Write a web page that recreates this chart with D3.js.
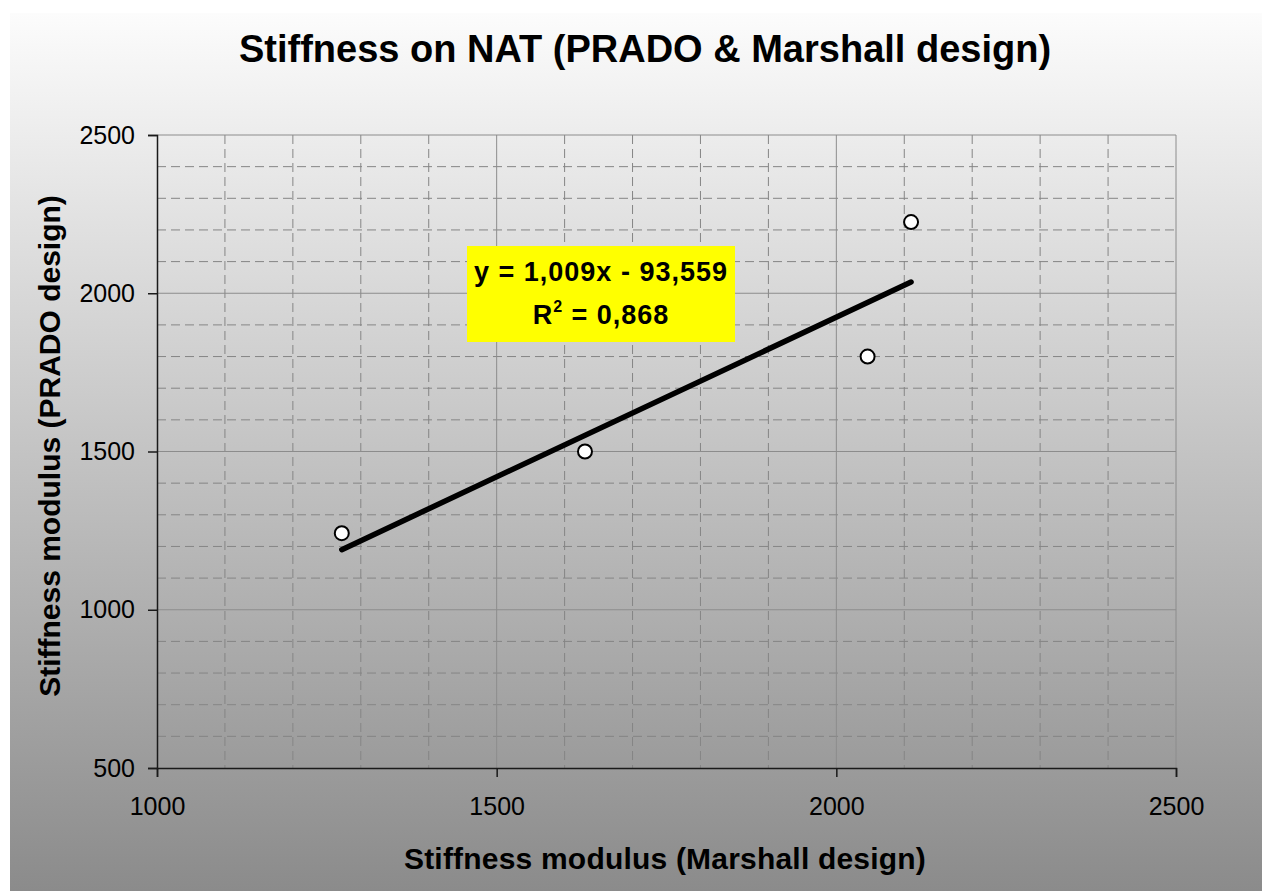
<!DOCTYPE html>
<html><head><meta charset="utf-8">
<script src="https://cdn.jsdelivr.net/npm/d3@7"></script>
<style>body{margin:0;background:#fff}svg{display:block}</style>
</head><body>
<svg id="c" width="1263" height="891"></svg>
<script>
const marshall = [1272, 1630, 2046, 2110];
const prado = [1242, 1500, 1800, 2225];
const trendSlope = 1.009;
const trendIntercept = -93.559;
const trendLabel1 = "y = 1,009x - 93,559";
const xTicks = [1000, 1500, 2000, 2500];
const yTicks = [500, 1000, 1500, 2000, 2500];
const title = "Stiffness on NAT (PRADO & Marshall design)";
const xTitle = "Stiffness modulus (Marshall design)";
const yTitle = "Stiffness modulus (PRADO design)";

const svg = d3.select("#c");
const defs = svg.append("defs");
const g = defs.append("linearGradient").attr("id","bg").attr("x1",0).attr("y1",0).attr("x2",0).attr("y2",1);
g.append("stop").attr("offset","0%").attr("stop-color","#fcfcfc");
g.append("stop").attr("offset","100%").attr("stop-color","#8b8b8b");
svg.append("rect").attr("x",10).attr("y",13).attr("width",1252).attr("height",878).attr("fill","url(#bg)");

const x = d3.scaleLinear().domain([1000,2500]).range([157,1176]);
const y = d3.scaleLinear().domain([500,2500]).range([768,135]);
const font = "'Liberation Sans', Arial, sans-serif";

// minor dashed grid
const minorX = d3.range(1000, 2501, 100).filter(v => v % 500 !== 0);
const minorY = d3.range(500, 2501, 100).filter(v => v % 500 !== 0);
svg.append("g").selectAll("line").data(minorX).join("line")
  .attr("x1", d=>x(d)).attr("x2", d=>x(d)).attr("y1", y(2500)).attr("y2", y(500))
  .attr("stroke","#858585").attr("stroke-width",1).attr("stroke-dasharray","9,5");
svg.append("g").selectAll("line").data(minorY).join("line")
  .attr("y1", d=>y(d)).attr("y2", d=>y(d)).attr("x1", x(1000)).attr("x2", x(2500))
  .attr("stroke","#858585").attr("stroke-width",1).attr("stroke-dasharray","9,5");
// major solid grid
svg.append("g").selectAll("line").data(xTicks.slice(1)).join("line")
  .attr("x1", d=>x(d)).attr("x2", d=>x(d)).attr("y1", y(2500)).attr("y2", y(500))
  .attr("stroke","#8c8c8c").attr("stroke-width",1);
svg.append("g").selectAll("line").data(yTicks.slice(1)).join("line")
  .attr("y1", d=>y(d)).attr("y2", d=>y(d)).attr("x1", x(1000)).attr("x2", x(2500))
  .attr("stroke","#8c8c8c").attr("stroke-width",1);

// axes
const xAxis = d3.axisBottom(x).tickValues(xTicks).tickSize(9).tickPadding(20).tickFormat(d3.format("d"));
const yAxis = d3.axisLeft(y).tickValues(yTicks).tickSize(9).tickPadding(13).tickFormat(d3.format("d"));
const gx = svg.append("g").attr("transform",`translate(0,${y(500)})`).call(xAxis);
const gy = svg.append("g").attr("transform",`translate(${x(1000)},0)`).call(yAxis);
[gx, gy].forEach(a => {
  a.select(".domain").attr("stroke","#1a1a1a").attr("stroke-width",1.5);
  a.selectAll(".tick line").attr("stroke","#1a1a1a").attr("stroke-width",1.5);
  a.selectAll("text").attr("font-family",font).attr("font-size",25).attr("fill","#000");
});

// trend line
const xmin = d3.min(marshall), xmax = d3.max(marshall);
svg.append("line")
  .attr("x1", x(xmin)).attr("y1", y(trendSlope*xmin + trendIntercept))
  .attr("x2", x(xmax)).attr("y2", y(trendSlope*xmax + trendIntercept))
  .attr("stroke","#000").attr("stroke-width",5.5).attr("stroke-linecap","round");

// points
svg.append("g").selectAll("circle").data(marshall.map((m,i)=>[m, prado[i]])).join("circle")
  .attr("cx", d=>x(d[0])).attr("cy", d=>y(d[1])).attr("r",7)
  .attr("fill","#fff").attr("stroke","#000").attr("stroke-width",2);

// trend label
svg.append("rect").attr("x",467).attr("y",246).attr("width",268).attr("height",96).attr("fill","#ffff00");
svg.append("text").attr("x",601).attr("y",281).attr("text-anchor","middle")
  .attr("font-family",font).attr("font-weight","bold").attr("font-size",27).attr("letter-spacing",1)
  .text(trendLabel1);
const t2 = svg.append("text").attr("x",601).attr("y",324).attr("text-anchor","middle")
  .attr("font-family",font).attr("font-weight","bold").attr("font-size",27).attr("letter-spacing",1);
t2.append("tspan").text("R");
t2.append("tspan").attr("font-size",16).attr("dy",-12).text("2");
t2.append("tspan").attr("dy",12).text(" = 0,868");

// titles
svg.append("text").attr("x",645).attr("y",62).attr("text-anchor","middle")
  .attr("font-family",font).attr("font-weight","bold").attr("font-size",38).text(title);
svg.append("text").attr("x",665).attr("y",869).attr("text-anchor","middle")
  .attr("font-family",font).attr("font-weight","bold").attr("font-size",30).attr("letter-spacing",0.2).text(xTitle);
svg.append("text").attr("transform","translate(60,446) rotate(-90)").attr("text-anchor","middle")
  .attr("font-family",font).attr("font-weight","bold").attr("font-size",30).text(yTitle);
</script>
</body></html>
